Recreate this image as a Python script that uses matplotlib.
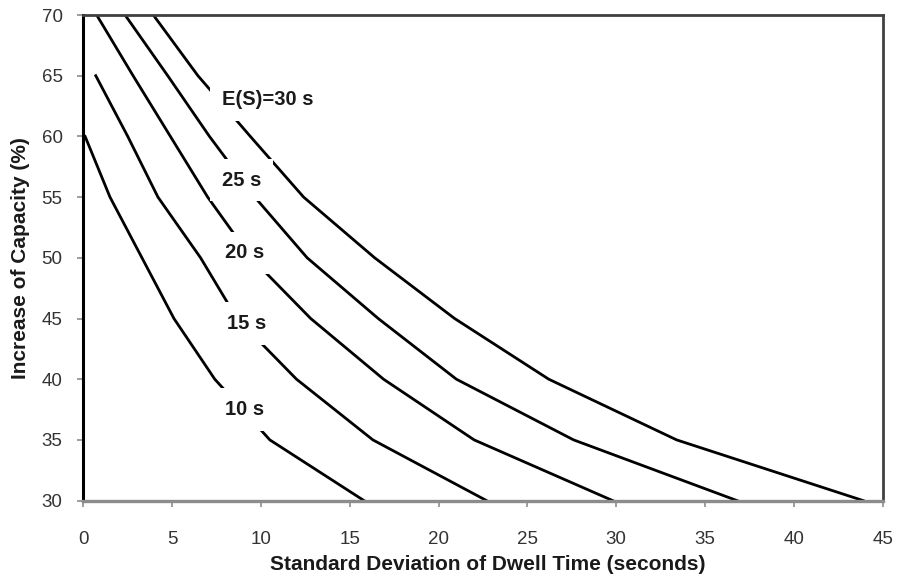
import matplotlib
matplotlib.use("Agg")
from matplotlib import pyplot as plt

plt.rcParams['font.family'] = ['Liberation Sans', 'DejaVu Sans']

# capacity increase levels (%) and the dwell-time std dev that gives them, per mean dwell time
cap_levels = [70, 65, 60, 55, 50, 45, 40, 35, 30]

sd_10s = [None, None, 0.1, 1.5, 3.3, 5.1, 7.4, 10.5, 15.8]
sd_15s = [None, 0.7, 2.5, 4.2, 6.6, 8.65, 12.0, 16.3, 22.7]
sd_20s = [0.75, 2.8, 4.9, 7.0, 9.45, 12.8, 16.9, 22.0, 29.8]
sd_25s = [2.35, 4.75, 7.1, 9.65, 12.6, 16.6, 21.0, 27.6, 36.8]
sd_30s = [3.94, 6.45, 9.4, 12.4, 16.4, 20.9, 26.2, 33.4, 43.9]

curves = [sd_10s, sd_15s, sd_20s, sd_25s, sd_30s]
curve_labels = ["10 s", "15 s", "20 s", "25 s", "E(S)=30 s"]
label_pos = [(9.1, 37.5), (9.2, 44.6), (9.1, 50.4), (8.9, 56.4), (10.4, 63.0)]

x_ticks = [0, 5, 10, 15, 20, 25, 30, 35, 40, 45]
y_ticks = [30, 35, 40, 45, 50, 55, 60, 65, 70]

fig = plt.figure(figsize=(8.98, 5.77), dpi=100)
ax = fig.add_axes([0.0928, 0.1324, 0.8902, 0.8416])

for sd in curves:
    pts = [(x, y) for x, y in zip(sd, cap_levels) if x is not None]
    ax.plot([p[0] for p in pts], [p[1] for p in pts], color='black', lw=2.0,
            solid_joinstyle='miter', zorder=2)

# labels sit on white boxes that break the curves
for text, (lx, ly) in zip(curve_labels, label_pos):
    ax.text(lx, ly, text, ha='center', va='center', fontsize=14.5,
            fontweight='bold', color='#1a1a1a', zorder=3,
            bbox=dict(facecolor='white', edgecolor='none', pad=8.5))

ax.set_xlim(0, 45)
ax.set_ylim(30, 70)
ax.set_xticks(x_ticks)
ax.set_yticks(y_ticks)
ax.tick_params(axis='both', direction='out', length=4, width=1.2,
               color='#8c8c8c', labelsize=13.5, labelcolor='#333333')
ax.tick_params(axis='x', pad=18)
ax.tick_params(axis='y', pad=11)

ax.spines['left'].set_color('black')
ax.spines['left'].set_linewidth(2.2)
ax.spines['top'].set_color('#404040')
ax.spines['top'].set_linewidth(2.0)
ax.spines['right'].set_color('#404040')
ax.spines['right'].set_linewidth(2.0)
ax.spines['bottom'].set_color('#8c8c8c')
ax.spines['bottom'].set_linewidth(2.4)

ax.set_xlabel('Standard Deviation of Dwell Time (seconds)', fontsize=15,
              fontweight='bold', color='#1a1a1a', va='center')
ax.set_ylabel('Increase of Capacity (%)', fontsize=15,
              fontweight='bold', color='#1a1a1a', va='center')
ax.xaxis.set_label_coords(0.5065, -0.1326)
ax.yaxis.set_label_coords(-0.079, 0.5)

fig.savefig('out.png', dpi=100)
